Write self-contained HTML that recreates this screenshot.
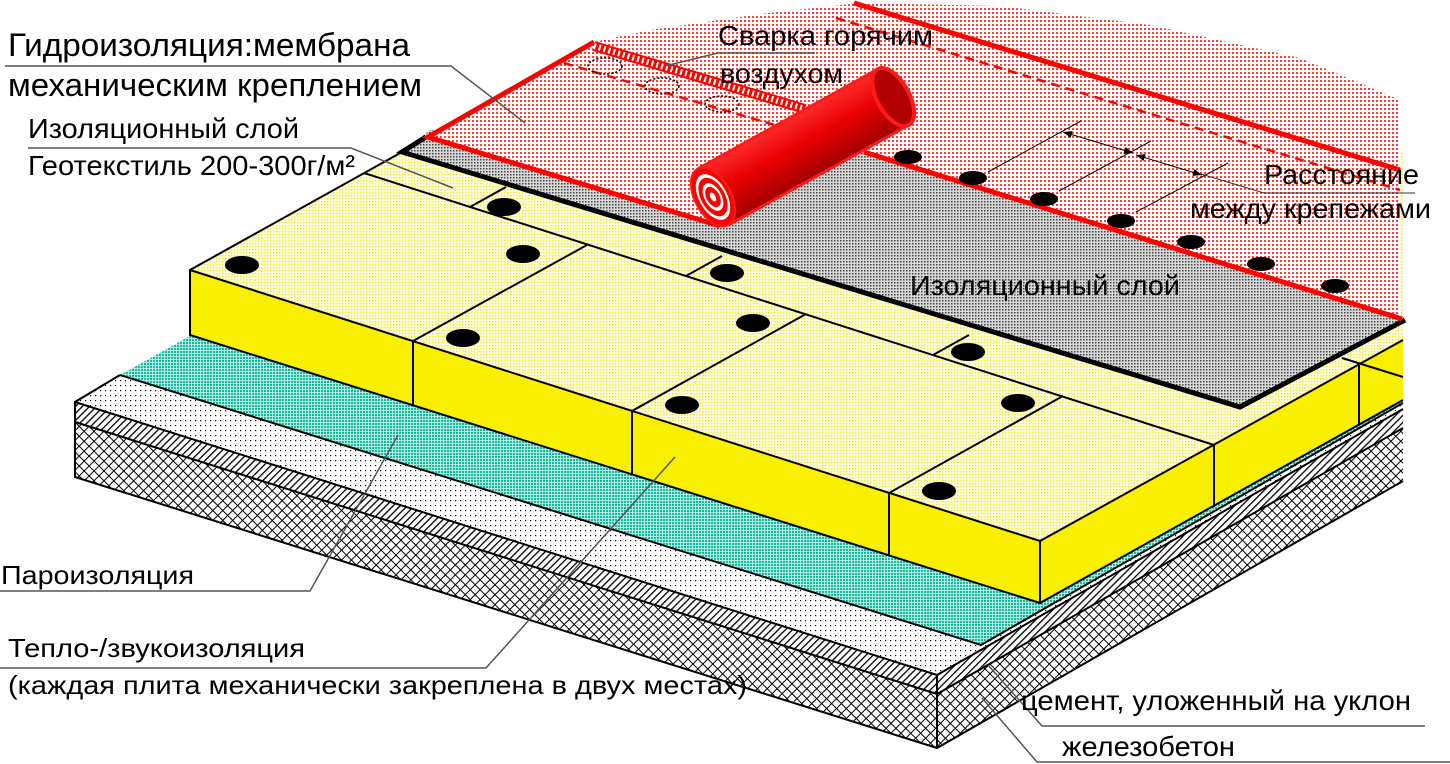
<!DOCTYPE html>
<html><head><meta charset="utf-8"><style>
html,body{margin:0;padding:0;background:#fff;width:1450px;height:764px;overflow:hidden}
svg{display:block}
text{font-family:"Liberation Sans",sans-serif;fill:#000}
</style></head><body>
<svg width="1450" height="764" viewBox="0 0 1450 764" xmlns="http://www.w3.org/2000/svg">
<defs>
<pattern id="pink" width="4" height="4" patternUnits="userSpaceOnUse"><rect width="4" height="4" fill="#fff"/><rect width="2" height="2" fill="#ff3a3a"/></pattern>
<pattern id="gray" width="3" height="3" patternUnits="userSpaceOnUse"><rect width="3" height="3" fill="#d8d8d8"/><rect width="1.5" height="1.5" fill="#444"/></pattern>
<pattern id="ylw" width="3" height="3" patternUnits="userSpaceOnUse"><rect width="3" height="3" fill="#fffde0"/><rect width="1.5" height="1.5" fill="#f3ea40"/></pattern>
<pattern id="teal" width="3" height="3" patternUnits="userSpaceOnUse"><rect width="3" height="3" fill="#b0efe4"/><rect width="2" height="2" fill="#18b89c"/></pattern>
<pattern id="dots" width="5" height="5" patternUnits="userSpaceOnUse"><rect width="5" height="5" fill="#fff"/><rect width="1.2" height="1.2" fill="#000"/></pattern>
<pattern id="hatch" width="5" height="5" patternUnits="userSpaceOnUse" patternTransform="rotate(45)"><rect width="5" height="5" fill="#fff"/><rect width="1.3" height="5" fill="#000"/></pattern>
<pattern id="xhatch" width="7" height="7" patternUnits="userSpaceOnUse" patternTransform="rotate(45)"><rect width="7" height="7" fill="#fff"/><rect width="1" height="7" fill="#000"/><rect width="7" height="1" fill="#000"/></pattern>
<linearGradient id="roll" x1="0" y1="0" x2="0" y2="1"><stop offset="0" stop-color="#ff2a2a"/><stop offset="0.45" stop-color="#e80000"/><stop offset="1" stop-color="#a00000"/></linearGradient>
<marker id="ar" viewBox="0 0 10 10" refX="10" refY="5" markerWidth="9" markerHeight="9" orient="auto-start-reverse"><path d="M0,1 L10,5 L0,9z" fill="#000"/></marker>
</defs>

<!-- slab -->
<polygon points="75,422 937,694 937,748 75,477" fill="url(#xhatch)"/>
<polygon points="937,694 1403,428 1403,481 937,748" fill="url(#xhatch)"/>
<polygon points="75,402 937,675 937,694 75,422" fill="url(#hatch)"/>
<polygon points="937,675 1403,409 1403,428 937,694" fill="url(#hatch)"/>
<polygon points="75,402 120,375 1403,375 1403,409 937,675" fill="url(#dots)"/>
<g fill="none" stroke="#000" stroke-width="2">
<polyline points="120,375 75,402 75,477 937,748 1403,481"/>
<polyline points="75,402 937,675 1403,409"/>
<polyline points="75,422 937,694 1403,428"/>
<line x1="937" y1="675" x2="937" y2="748"/>
</g>
<!-- teal -->
<polygon points="120,375 190,336 1403,336 1403,403 981,645" fill="url(#teal)"/>
<polyline points="120,375 981,645 1403,403" fill="none" stroke="#000" stroke-width="2"/>

<!-- yellow -->
<polygon points="190,270 1040,541 1040,603 190,335" fill="#f8f000"/>
<polygon points="1040,541 1403,340 1403,400 1040,603" fill="#f8f000"/>
<polygon points="190,270 402,152 1403,152 1403,340 1040,541" fill="url(#ylw)"/>
<g fill="none" stroke="#000" stroke-width="2">
<polyline points="402,152 190,270 190,335 1040,603 1403,400"/>
<polyline points="190,270 1040,541 1403,340"/>
<line x1="1040" y1="541" x2="1040" y2="603"/>
<line x1="413" y1="341" x2="413" y2="406"/>
<line x1="632" y1="411" x2="632" y2="475"/>
<line x1="889" y1="493" x2="889" y2="555"/>
<line x1="1214" y1="445" x2="1214" y2="507"/>
<line x1="1359" y1="364" x2="1359" y2="425"/>
<line x1="364" y1="173" x2="1214" y2="445"/>
<line x1="1342" y1="358" x2="1403" y2="377"/>
<line x1="413" y1="341" x2="587" y2="245"/>
<line x1="632" y1="411" x2="806" y2="314"/>
<line x1="889" y1="493" x2="1063" y2="396"/>
<line x1="470" y1="207" x2="506" y2="187"/>
<line x1="686" y1="276" x2="722" y2="256"/>
<line x1="933" y1="355" x2="969" y2="335"/>
</g>
<g fill="#000">
<ellipse cx="242" cy="265" rx="17" ry="9"/><ellipse cx="523" cy="254" rx="17" ry="9"/>
<ellipse cx="504" cy="207" rx="17" ry="9"/><ellipse cx="463" cy="338" rx="17" ry="9"/>
<ellipse cx="727" cy="273" rx="17" ry="9"/><ellipse cx="753" cy="323" rx="17" ry="9"/>
<ellipse cx="968" cy="352" rx="17" ry="9"/><ellipse cx="682" cy="405" rx="17" ry="9"/>
<ellipse cx="1018" cy="403" rx="17" ry="9"/><ellipse cx="939" cy="491" rx="17" ry="9"/>
</g>

<!-- geotextile -->
<polygon points="402,152 1240,407 1400,324 1400,300 864,130 430,130" fill="url(#gray)"/>
<polyline points="426,137 402,152 1240,407 1405,320" fill="none" stroke="#000" stroke-width="5"/>

<!-- membrane -->
<polygon points="428,137 594,42 650,30 760,14 860,3 1000,6 1150,25 1300,58 1400,100 1400,318 864,152 720,226" fill="url(#pink)"/>
<g fill="none" stroke="#ff0000" stroke-width="5">
<polyline points="594,42 428,137 720,226"/>
<line x1="864" y1="152" x2="1402" y2="319"/>
<line x1="854" y1="3" x2="1400" y2="170"/>
</g>
<line x1="594" y1="46" x2="805" y2="109" stroke="#ff0000" stroke-width="10"/>
<line x1="594" y1="46" x2="805" y2="109" stroke="#fff" stroke-width="6" stroke-dasharray="2 3"/>
<g fill="none" stroke="#ff0000" stroke-width="2.5" stroke-dasharray="9 6">
<line x1="564" y1="63" x2="785" y2="128"/>
<line x1="836" y1="18" x2="1400" y2="190"/>
</g>
<g fill="none" stroke="#000" stroke-width="1.5" stroke-dasharray="2 2">
<ellipse cx="605" cy="66" rx="17" ry="8"/><ellipse cx="662" cy="86" rx="17" ry="8"/><ellipse cx="722" cy="104" rx="17" ry="8"/>
</g>
<g fill="#000">
<ellipse cx="908" cy="157" rx="14" ry="7"/><ellipse cx="973" cy="178" rx="14" ry="7"/><ellipse cx="1044" cy="199" rx="14" ry="7"/>
<ellipse cx="1121" cy="221" rx="14" ry="7"/><ellipse cx="1191" cy="242" rx="14" ry="7"/><ellipse cx="1261" cy="264" rx="14" ry="7"/><ellipse cx="1335" cy="286" rx="14" ry="7"/>
</g>
<!-- dimension lines -->
<g stroke="#000" stroke-width="1" fill="none">
<line x1="988" y1="172" x2="1081" y2="121"/>
<line x1="1059" y1="191" x2="1151" y2="141"/>
<line x1="1136" y1="212" x2="1228" y2="163"/>
<line x1="1063" y1="132" x2="1133" y2="153" marker-start="url(#ar)" marker-end="url(#ar)"/>
<line x1="1136" y1="155" x2="1202" y2="175" marker-start="url(#ar)" marker-end="url(#ar)"/>
<polyline points="1201,174 1264,193 1415,193" stroke="#333"/>
</g>

<!-- roll -->
<g transform="translate(713,197) rotate(-29)">
<rect x="0" y="-32" width="206" height="64" fill="url(#roll)"/>
<line x1="0" y1="-32" x2="206" y2="-32" stroke="#ff1a1a" stroke-width="3"/>
<line x1="0" y1="32" x2="206" y2="32" stroke="#ff1a1a" stroke-width="3"/>
<ellipse cx="206" cy="0" rx="16" ry="32" fill="#b00000" stroke="#ff1a1a" stroke-width="4"/>
<ellipse cx="0" cy="0" rx="18" ry="32" fill="#ff0000" stroke="#ff1a1a" stroke-width="2"/>
<ellipse cx="0" cy="0" rx="14" ry="25" fill="#fff"/>
<ellipse cx="0" cy="0" rx="12" ry="21" fill="#ff0000"/>
<ellipse cx="0" cy="0" rx="8.5" ry="15" fill="#fff"/>
<ellipse cx="0" cy="0" rx="6.5" ry="11" fill="#ff0000"/>
<ellipse cx="0" cy="0" rx="2.5" ry="5" fill="#fff"/>
</g>

<!-- leaders -->
<g stroke="#555" stroke-width="1.5" fill="none">
<polyline points="5,66 451,66 525,123"/>
<polyline points="28,148 351,148 453,188"/>
<polyline points="665,66 718,53 815,53"/>
<polyline points="0,591 310,591 398,435"/>
<polyline points="0,668 486,668 675,457"/>
<polyline points="1425,726 1042,726 988,665"/>
<polyline points="1450,762 1037,762 982,698"/>
</g>

<!-- text -->
<text x="8" y="56" font-size="32" textLength="402" lengthAdjust="spacingAndGlyphs">Гидроизоляция:мембрана</text>
<text x="8" y="96" font-size="32" textLength="414" lengthAdjust="spacingAndGlyphs">механическим креплением</text>
<text x="28" y="138" font-size="28" textLength="271" lengthAdjust="spacingAndGlyphs">Изоляционный слой</text>
<text x="28" y="175" font-size="28" textLength="327" lengthAdjust="spacingAndGlyphs">Геотекстиль 200-300г/м²</text>
<text x="718" y="45" font-size="28" textLength="215" lengthAdjust="spacingAndGlyphs">Сварка горячим</text>
<text x="720" y="83" font-size="28" textLength="123" lengthAdjust="spacingAndGlyphs">воздухом</text>
<text x="1264" y="184" font-size="28" textLength="155" lengthAdjust="spacingAndGlyphs">Расстояние</text>
<text x="1190" y="218" font-size="28" textLength="241" lengthAdjust="spacingAndGlyphs">между крепежами</text>
<text x="910" y="295" font-size="28" textLength="270" lengthAdjust="spacingAndGlyphs">Изоляционный слой</text>
<text x="1" y="584" font-size="26" textLength="193" lengthAdjust="spacingAndGlyphs">Пароизоляция</text>
<text x="8" y="657" font-size="26" textLength="297" lengthAdjust="spacingAndGlyphs">Тепло-/звукоизоляция</text>
<text x="8" y="694" font-size="26" textLength="739" lengthAdjust="spacingAndGlyphs">(каждая плита механически закреплена в двух местах)</text>
<text x="1021" y="710" font-size="28" textLength="390" lengthAdjust="spacingAndGlyphs">цемент, уложенный на уклон</text>
<text x="1062" y="756" font-size="28" textLength="173" lengthAdjust="spacingAndGlyphs">железобетон</text>
</svg>
</body></html>
